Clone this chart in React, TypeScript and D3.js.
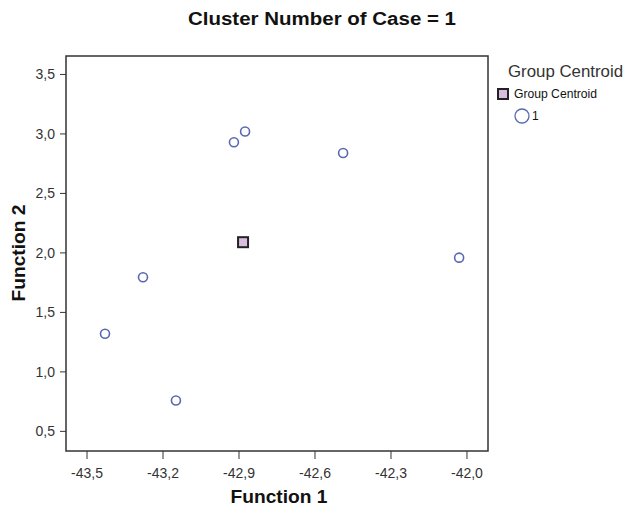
import React from "react";
import * as d3 from "d3";

const caseX = [-43.429, -43.279, -43.149, -42.92, -42.876, -42.489, -42.031];
const caseY = [1.32, 1.795, 0.76, 2.93, 3.02, 2.84, 1.96];
const centroidX = [-42.884];
const centroidY = [2.09];
const xTicks = [-43.5, -43.2, -42.9, -42.6, -42.3, -42.0];
const yTicks = [0.5, 1.0, 1.5, 2.0, 2.5, 3.0, 3.5];

const W = 625, H = 510;
const left = 66, right = 488, top = 56, bottom = 451;

export default function App() {
  const x = d3.scaleLinear().domain([-43.583, -41.917]).range([left, right]);
  const y = d3.scaleLinear().domain([0.335, 3.655]).range([bottom, top]);
  const fmt = (v: number) => d3.format(".1f")(v).replace(".", ",").replace("−", "-");
  const font = "'Liberation Sans', Arial, sans-serif";
  return (
    <svg width={W} height={H} style={{ position: "absolute", left: 0, top: 0, background: "#fff" }} fontFamily={font}>
      <rect x={0} y={0} width={W} height={H} fill="#fff" />
      <text x={322} y={25} textAnchor="middle" fontSize={17.5} fontWeight="bold" fill="#111" textLength={268} lengthAdjust="spacingAndGlyphs">
        Cluster Number of Case = 1
      </text>
      <rect x={left} y={top} width={right - left} height={bottom - top} fill="#fff" stroke="#333" strokeWidth={1.5} />
      {yTicks.map((t) => (
        <g key={"y" + t}>
          <line x1={left - 6} x2={left} y1={y(t)} y2={y(t)} stroke="#333" strokeWidth={1} />
          <text x={left - 11} y={y(t) + 5} textAnchor="end" fontSize={14} fill="#333">{fmt(t)}</text>
        </g>
      ))}
      {xTicks.map((t) => (
        <g key={"x" + t}>
          <line x1={x(t)} x2={x(t)} y1={bottom} y2={bottom + 8} stroke="#333" strokeWidth={1} />
          <text x={x(t)} y={bottom + 27} textAnchor="middle" fontSize={14} fill="#333">{fmt(t)}</text>
        </g>
      ))}
      <text x={279} y={503} textAnchor="middle" fontSize={18} fontWeight="bold" fill="#111" textLength={97} lengthAdjust="spacingAndGlyphs">Function 1</text>
      <text transform={`translate(25,${253}) rotate(-90)`} textAnchor="middle" fontSize={18} fontWeight="bold" fill="#111" textLength={97} lengthAdjust="spacingAndGlyphs">Function 2</text>
      {caseX.map((cx, i) => (
        <circle key={i} cx={x(cx)} cy={y(caseY[i])} r={4.5} fill="#fff" stroke="#5a68b0" strokeWidth={1.6} />
      ))}
      {centroidX.map((cx, i) => (
        <rect key={"c" + i} x={x(cx) - 5} y={y(centroidY[i]) - 5} width={10} height={10} fill="#d9bde0" stroke="#222" strokeWidth={2} />
      ))}
      <text x={508} y={77} fontSize={16} fill="#333" textLength={115} lengthAdjust="spacingAndGlyphs">Group Centroid</text>
      <rect x={498} y={89} width={10} height={10} fill="#d9bde0" stroke="#222" strokeWidth={2} />
      <text x={514} y={98} fontSize={12} fill="#111" textLength={83} lengthAdjust="spacingAndGlyphs">Group Centroid</text>
      <circle cx={522} cy={116} r={7} fill="#fff" stroke="#5a68b0" strokeWidth={1.3} />
      <text x={532} y={120} fontSize={12} fill="#111">1</text>
    </svg>
  );
}
